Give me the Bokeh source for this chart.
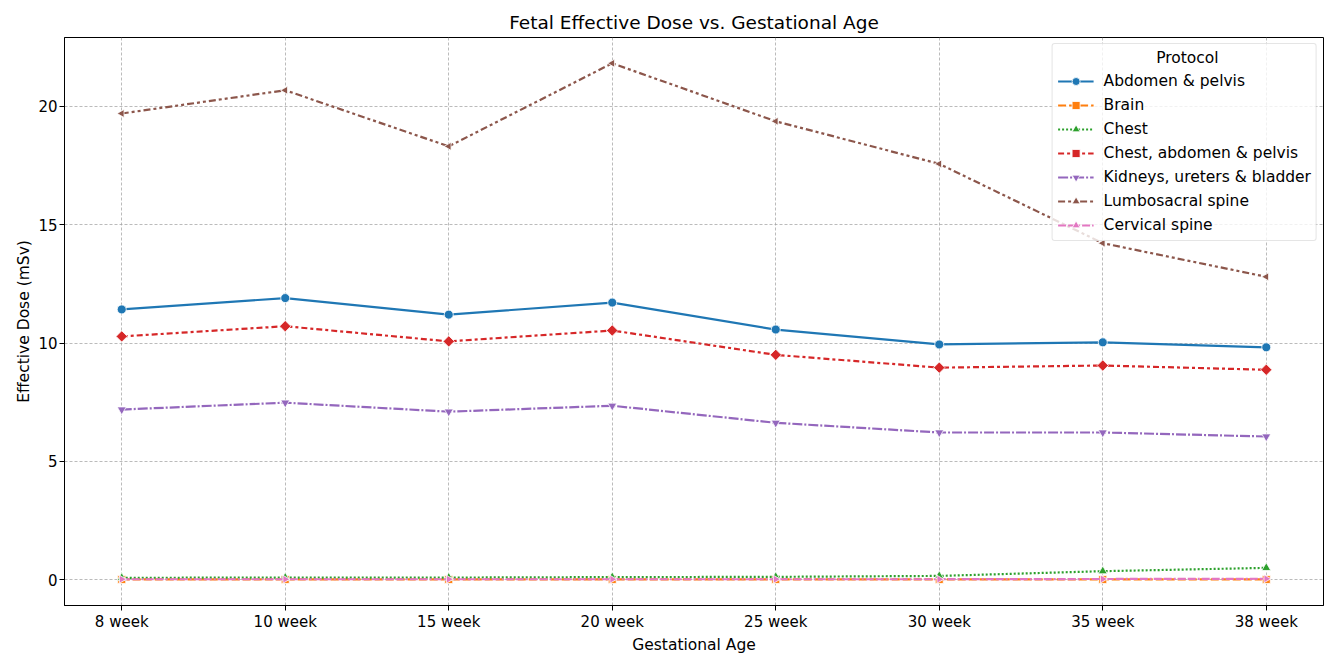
import math
from bokeh.plotting import figure
from bokeh.models import Range1d, FixedTicker, Legend, LegendItem, ColumnDataSource
from bokeh.embed import file_html
from bokeh.resources import INLINE

weeks = ["8 week", "10 week", "15 week", "20 week", "25 week", "30 week", "35 week", "38 week"]

abdomen_pelvis = [11.42, 11.90, 11.20, 11.71, 10.57, 9.94, 10.03, 9.82]
brain = [0.01, 0.01, 0.01, 0.01, 0.01, 0.01, 0.01, 0.01]
chest = [0.08, 0.09, 0.09, 0.11, 0.12, 0.16, 0.36, 0.50]
chest_abdomen_pelvis = [10.28, 10.71, 10.07, 10.53, 9.50, 8.96, 9.05, 8.87]
kidneys = [7.19, 7.48, 7.10, 7.35, 6.63, 6.22, 6.22, 6.05]
lumbosacral = [19.70, 20.68, 18.31, 21.82, 19.37, 17.57, 14.22, 12.80]
cervical = [0.02, 0.02, 0.02, 0.02, 0.02, 0.02, 0.03, 0.04]

protocols = ["Abdomen & pelvis", "Brain", "Chest", "Chest, abdomen & pelvis",
             "Kidneys, ureters & bladder", "Lumbosacral spine", "Cervical spine"]
series = [abdomen_pelvis, brain, chest, chest_abdomen_pelvis, kidneys, lumbosacral, cervical]
colors = ["#1f77b4", "#ff7f0e", "#2ca02c", "#d62728", "#9467bd", "#8c564b", "#e377c2"]
dashes = ["solid", "8 3", "2 2", "6 3 3 3", "10 2 2 2", "7 3 3 3 3 3", "8 2 8 2 2 2"]
markers = [("circle", 9, 0.0), ("square", 8, 0.0), ("triangle", 9, 0.0), ("square", 8, math.pi / 4),
           ("inverted_triangle", 9, 0.0), ("triangle", 8, math.pi / 2), ("triangle", 8, -math.pi / 2)]

legend_title = "Protocol"

FONT = "DejaVu Sans"

p = figure(width=1331, height=657, output_backend="svg", toolbar_location=None,
           x_range=Range1d(-0.35, len(weeks) - 1 + 0.35), y_range=Range1d(-1.09, 22.91),
           title="Fetal Effective Dose vs. Gestational Age",
           min_border_left=64, min_border_right=8, min_border_top=37, min_border_bottom=52)

p.title.align = "center"
p.title.text_font = FONT
p.title.text_font_size = "18.5px"
p.title.text_font_style = "normal"
p.title.text_color = "#000000"
p.title.offset = 0
p.title.standoff = 9

xs = list(range(len(weeks)))
p.xaxis.ticker = FixedTicker(ticks=xs)
p.xaxis.major_label_overrides = {i: w for i, w in enumerate(weeks)}
p.yaxis.ticker = FixedTicker(ticks=[0, 5, 10, 15, 20])
p.xaxis.axis_label = "Gestational Age"
p.yaxis.axis_label = "Effective Dose (mSv)"
for ax in (p.xaxis[0], p.yaxis[0]):
    ax.axis_label_text_font = FONT
    ax.axis_label_text_font_size = "15.5px"
    ax.axis_label_text_font_style = "normal"
    ax.axis_label_text_color = "#000000"
    ax.major_label_text_font = FONT
    ax.major_label_text_font_size = "15px"
    ax.major_label_text_color = "#000000"
    ax.major_tick_out = 5
    ax.major_tick_in = 0
    ax.minor_tick_out = 0
    ax.minor_tick_in = 0
    ax.axis_line_color = "#000000"
    ax.major_tick_line_color = "#000000"
    ax.axis_label_standoff = 2
    ax.major_label_standoff = 2

p.outline_line_color = "#000000"
p.outline_line_width = 1
p.outline_line_alpha = 1.0

for g in (p.xgrid[0], p.ygrid[0]):
    g.grid_line_color = "#a0a0a0"
    g.grid_line_dash = "3 2"
    g.grid_line_width = 0.8
    g.grid_line_alpha = 0.9

items = []
for name, ys, c, d, (mk, sz, ang) in zip(protocols, series, colors, dashes, markers):
    src = ColumnDataSource(dict(x=xs, y=ys))
    ln = p.line("x", "y", source=src, line_color=c, line_width=2.2, line_dash=d)
    sc = p.scatter("x", "y", source=src, marker=mk, size=sz, angle=ang,
                   fill_color=c, line_color="white", line_width=0.8)
    items.append(LegendItem(label=name, renderers=[ln, sc]))

# pad the title with non-breaking spaces so it sits centred over the entries
legend = Legend(items=items, location="top_right", title="\u00a0" * 20 + legend_title)
legend.title_text_font = FONT
legend.title_text_font_size = "15.5px"
legend.title_text_font_style = "normal"
legend.title_text_color = "#000000"
legend.title_standoff = 4
legend.label_text_font = FONT
legend.label_text_font_size = "15.5px"
legend.label_text_color = "#000000"
legend.glyph_width = 36
legend.glyph_height = 20
legend.label_height = 20
legend.spacing = 4
legend.padding = 5
legend.margin = 6
legend.label_standoff = 10
legend.border_line_color = "#cccccc"
legend.border_line_width = 1
legend.background_fill_alpha = 0.8
legend.border_radius = 3
p.add_layout(legend, "center")

open("out.html", "w").write(file_html(p, INLINE))
